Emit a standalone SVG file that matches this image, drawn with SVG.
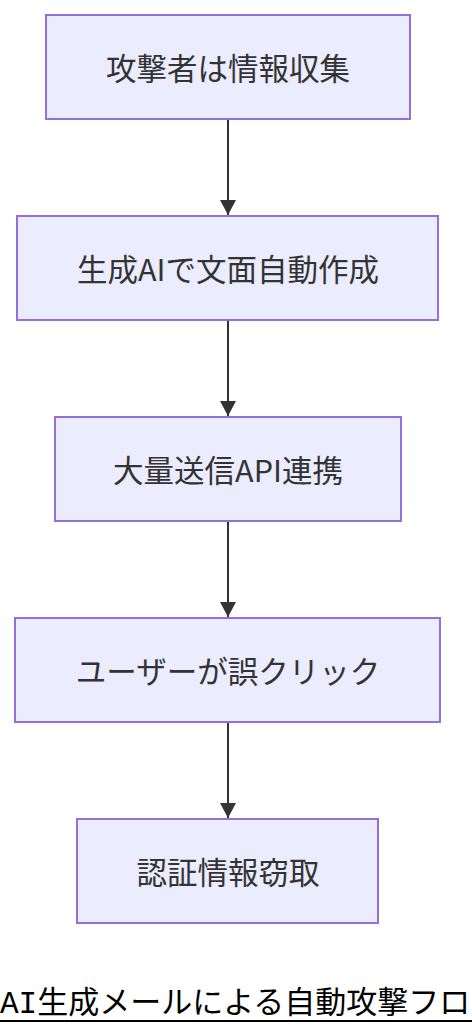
<svg xmlns="http://www.w3.org/2000/svg" width="472" height="1036" viewBox="0 0 472 1036">
<style>
.node rect{fill:#ECECFF;stroke:#9370DB;stroke-width:2}
.node text{font-family:"Noto Sans CJK JP","Liberation Sans",sans-serif;font-size:30.5px;fill:#333;text-anchor:middle;dominant-baseline:central}
.edge{stroke:#333;stroke-width:2;fill:none}
.title{font-family:"Liberation Mono","Noto Sans CJK JP",monospace;font-size:31px;fill:#000}
</style>
<defs>
<marker id="arr" viewBox="0 0 15 16" refX="15" refY="8" markerWidth="15" markerHeight="16" markerUnits="userSpaceOnUse" orient="auto">
<path d="M0,0 L15,8 L0,16 Z" fill="#333"/>
</marker>
</defs>
<rect width="472" height="1036" fill="#fff"/>
<g id="connectors">
<path class="edge" d="M228,120 V215" marker-end="url(#arr)"/>
<path class="edge" d="M228,321 V416" marker-end="url(#arr)"/>
<path class="edge" d="M228,522 V617" marker-end="url(#arr)"/>
<path class="edge" d="M228,723 V818" marker-end="url(#arr)"/>
</g>
<g id="n1" class="node"><rect x="46" y="15" width="364" height="104"/><text x="228" y="67">攻撃者は情報収集</text></g>
<g id="n2" class="node"><rect x="17" y="216" width="421" height="104"/><text x="228" y="268">生成AIで文面自動作成</text></g>
<g id="n3" class="node"><rect x="55" y="417" width="346" height="104"/><text x="228" y="469">大量送信API連携</text></g>
<g id="n4" class="node"><rect x="15" y="618" width="425" height="104"/><text x="228" y="670">ユーザーが誤クリック</text></g>
<g id="n5" class="node"><rect x="77" y="819" width="301" height="104"/><text x="228" y="871">認証情報窃取</text></g>
<g id="title">
<text class="title" x="0" y="1013">AI生成メールによる自動攻撃フロー</text>
<line x1="0" y1="1021" x2="472" y2="1021" stroke="#000" stroke-width="2"/>
</g>
</svg>
